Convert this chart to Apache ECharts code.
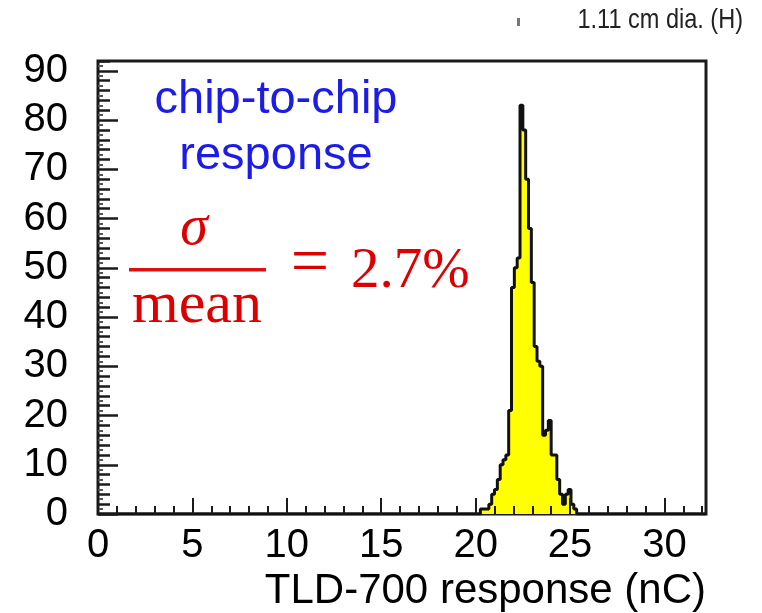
<!DOCTYPE html>
<html>
<head>
<meta charset="utf-8">
<script src="https://cdn.jsdelivr.net/npm/echarts@6/dist/echarts.min.js"></script>
<style>
html,body{margin:0;padding:0;background:#fff;}
#chart{width:762px;height:613px;}
</style>
</head>
<body>
<div id="chart"></div>
<script>
// ---- data ----
const binWidth = 0.15;
const binStarts = [20.25, 20.40, 20.55, 20.70, 20.85, 21.00, 21.15, 21.30, 21.45, 21.60,
                   21.75, 21.90, 22.05, 22.20, 22.35, 22.50, 22.65, 22.80, 22.95, 23.10,
                   23.25, 23.40, 23.55, 23.70, 23.85, 24.00, 24.15, 24.30, 24.45, 24.60,
                   24.75, 24.90, 25.05, 25.20];
const counts    = [1, 1, 1, 2, 4, 5, 7, 10, 11, 12,
                   21, 46, 50, 52, 83, 78, 68, 58, 47, 34,
                   31, 30, 16, 17, 19, 12, 12, 7, 4, 2,
                   4, 5, 2, 1];
const xMin = 0, xMax = 32.2;
const yMin = 0, yMax = 92;
const xTitle = 'TLD-700 response (nC)';
const headerText = '1.11 cm dia. (H)';
const noteLine1 = 'chip-to-chip';
const noteLine2 = 'response';
const fracNum = 'σ';
const fracDen = 'mean';
const fracValue = '2.7%';

// step outline data (left edge + count), closed to zero on both ends
const stepData = [[xMin, 0], [binStarts[0], 0]];
binStarts.forEach((x, i) => stepData.push([x, counts[i]]));
stepData.push([binStarts[binStarts.length - 1] + binWidth, 0]);
stepData.push([xMax, 0]);

const chart = echarts.init(document.getElementById('chart'), null, {renderer: 'canvas'});
const tickCol = '#1a1a1a';
const labelFont = {fontFamily: 'Liberation Sans, Arial, sans-serif', fontSize: 40, color: '#000'};

chart.setOption({
  animation: false,
  backgroundColor: '#fff',
  grid: {
    left: 98, top: 61, right: 56, bottom: 99,
    show: true, borderColor: tickCol, borderWidth: 3, backgroundColor: 'transparent'
  },
  xAxis: [{
    type: 'value', min: xMin, max: xMax, interval: 5, z: 10,
    axisLine: {show: false},
    splitLine: {show: false},
    axisTick: {inside: true, length: 16, lineStyle: {color: tickCol, width: 2}},
    axisLabel: Object.assign({margin: 12, showMaxLabel: false}, labelFont)
  }, {
    type: 'value', min: xMin, max: xMax, interval: 1, z: 10, position: 'bottom',
    axisLine: {show: false},
    splitLine: {show: false},
    axisTick: {inside: true, length: 8, lineStyle: {color: tickCol, width: 2}},
    axisLabel: {show: false}
  }],
  yAxis: [{
    type: 'value', min: yMin, max: yMax, interval: 10, z: 10,
    axisLine: {show: false},
    splitLine: {show: false},
    axisTick: {inside: true, length: 20, lineStyle: {color: tickCol, width: 2.5}},
    axisLabel: Object.assign({margin: 30, showMaxLabel: false}, labelFont)
  }, {
    type: 'value', min: yMin, max: yMax, interval: 2, z: 10, position: 'left',
    axisLine: {show: false},
    splitLine: {show: false},
    axisTick: {inside: true, length: 12, lineStyle: {color: tickCol, width: 2.5}},
    minorTick: {show: true, splitNumber: 2, length: 5, lineStyle: {color: '#555', width: 2}},
    axisLabel: {show: false}
  }],
  series: [{
    type: 'line',
    xAxisIndex: 0, yAxisIndex: 0,
    step: 'end',
    data: stepData,
    showSymbol: false,
    symbol: 'none',
    z: 2,
    lineStyle: {color: '#111', width: 3},
    areaStyle: {color: '#ffff00', opacity: 1}
  }],
  graphic: [
    {type: 'text', x: 743, y: 20, scaleX: 0.84,
     style: {x: 0, y: 0, text: headerText, align: 'right', verticalAlign: 'middle',
             font: '28px "Liberation Sans", Arial, sans-serif', fill: '#222'}},
    {type: 'rect', shape: {x: 517, y: 18, width: 3, height: 8}, style: {fill: '#777'}},
    {type: 'text', style: {x: 276, y: 100, text: noteLine1, align: 'center', verticalAlign: 'middle',
             font: '47px "Liberation Sans", Arial, sans-serif', fill: '#1c1ce6'}},
    {type: 'text', style: {x: 276, y: 156, text: noteLine2, align: 'center', verticalAlign: 'middle',
             font: '47px "Liberation Sans", Arial, sans-serif', fill: '#1c1ce6'}},
    {type: 'text', style: {x: 194, y: 229, text: fracNum, align: 'center', verticalAlign: 'middle',
             font: 'italic 56px "Liberation Serif", "DejaVu Serif", serif', fill: '#dd0000'}},
    {type: 'rect', shape: {x: 129, y: 268, width: 137, height: 3.5}, style: {fill: '#dd1010'}},
    {type: 'text', style: {x: 197, y: 306, text: fracDen, align: 'center', verticalAlign: 'middle',
             font: '60px "Liberation Serif", "DejaVu Serif", serif', fill: '#dd0000'}},
    {type: 'text', style: {x: 310, y: 265, text: '=', align: 'center', verticalAlign: 'middle',
             font: '68px "Liberation Serif", "DejaVu Serif", serif', fill: '#dd0000'}},
    {type: 'text', style: {x: 351, y: 272, text: fracValue, align: 'left', verticalAlign: 'middle',
             font: '57px "Liberation Serif", "DejaVu Serif", serif', fill: '#dd0000'}},
    {type: 'text', style: {x: 706, y: 591, text: xTitle, align: 'right', verticalAlign: 'middle',
             font: '42px "Liberation Sans", Arial, sans-serif', fill: '#000'}}
  ]
});
</script>
</body>
</html>
